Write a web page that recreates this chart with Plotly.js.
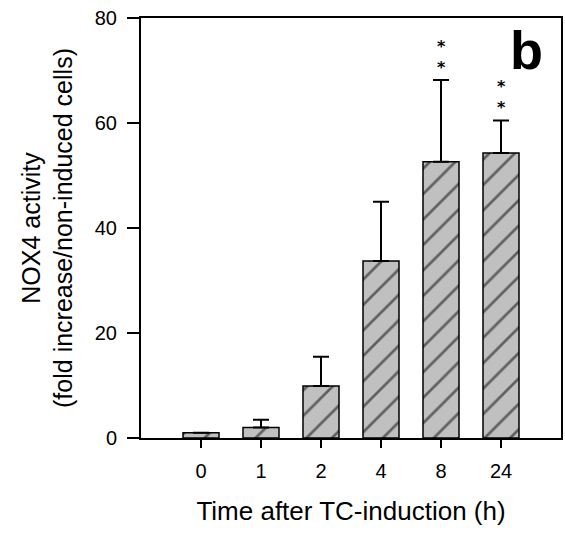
<!DOCTYPE html>
<html><head><meta charset="utf-8">
<script src="https://cdn.plot.ly/plotly-3.0.1.min.js"></script>
<style>html,body{margin:0;padding:0;background:#fff}</style>
</head><body><div id="chart" style="width:565px;height:538px"></div>
<script>
const timeLabels = ["0", "1", "2", "4", "8", "24"];
const activity = [1.0, 2.0, 9.9, 33.7, 52.6, 54.3];
const errorUp = [0, 1.5, 5.6, 11.3, 15.6, 6.2];
const significance = ["", "", "", "", "*<br>*", "*<br>*"];
const yTicks = [0, 20, 40, 60, 80];
const panelLetter = "b";

const font = "Liberation Sans, Arial, sans-serif";

const trace = {
  type: "bar",
  x: timeLabels,
  y: activity,
  width: 0.6,
  marker: {
    color: "#c0c0c0",
    line: { color: "#000", width: 1.5 },
    pattern: { shape: "/", size: 18, solidity: 0.15, fgcolor: "#000", bgcolor: "#c0c0c0", fillmode: "overlay" }
  },
  error_y: {
    type: "data", symmetric: false,
    array: errorUp, arrayminus: errorUp.map(() => 0),
    color: "#000", thickness: 2, width: 8
  },
  hoverinfo: "skip"
};

const annotations = [];
significance.forEach((s, i) => {
  if (s) annotations.push({
    x: i, y: activity[i] + errorUp[i], xref: "x", yref: "y",
    text: "<b>" + s + "</b>", showarrow: false, yanchor: "bottom", yshift: 1,
    font: { family: "DejaVu Sans", size: 16, color: "#000" }
  });
});
annotations.push({
  x: 0.919, y: 0.924, xref: "paper", yref: "paper", xanchor: "center", yanchor: "middle",
  text: "<b>" + panelLetter + "</b>", showarrow: false,
  font: { family: font, size: 54, color: "#000" }
});

const layout = {
  width: 565, height: 538,
  margin: { l: 141, r: 4, t: 18, b: 100 },
  paper_bgcolor: "#fff", plot_bgcolor: "#fff",
  showlegend: false,
  font: { family: font, size: 15, color: "#000" },
  xaxis: {
    type: "category", range: [-1, 6],
    showline: true, linecolor: "#000", linewidth: 2, mirror: true,
    ticks: "outside", ticklen: 8, tickwidth: 2, tickcolor: "#000",
    showgrid: false, zeroline: false,
    ticklabelstandoff: 6,
    tickfont: { family: font, size: 20 },
    title: { text: "Time after TC-induction (h)", font: { family: font, size: 26 }, standoff: 21 }
  },
  yaxis: {
    range: [0, 80], tickvals: yTicks,
    showline: true, linecolor: "#000", linewidth: 2, mirror: true,
    ticks: "outside", ticklen: 12, tickwidth: 2, tickcolor: "#000",
    showgrid: false, zeroline: false,
    ticklabelstandoff: 6,
    tickfont: { family: font, size: 20 },
    title: { text: "NOX4 activity<br>(fold increase/non-induced cells)", font: { family: font, size: 25 }, standoff: 15 }
  },
  annotations: annotations
};

Plotly.newPlot("chart", [trace], layout, { staticPlot: true, displayModeBar: false });
</script>
</body></html>
